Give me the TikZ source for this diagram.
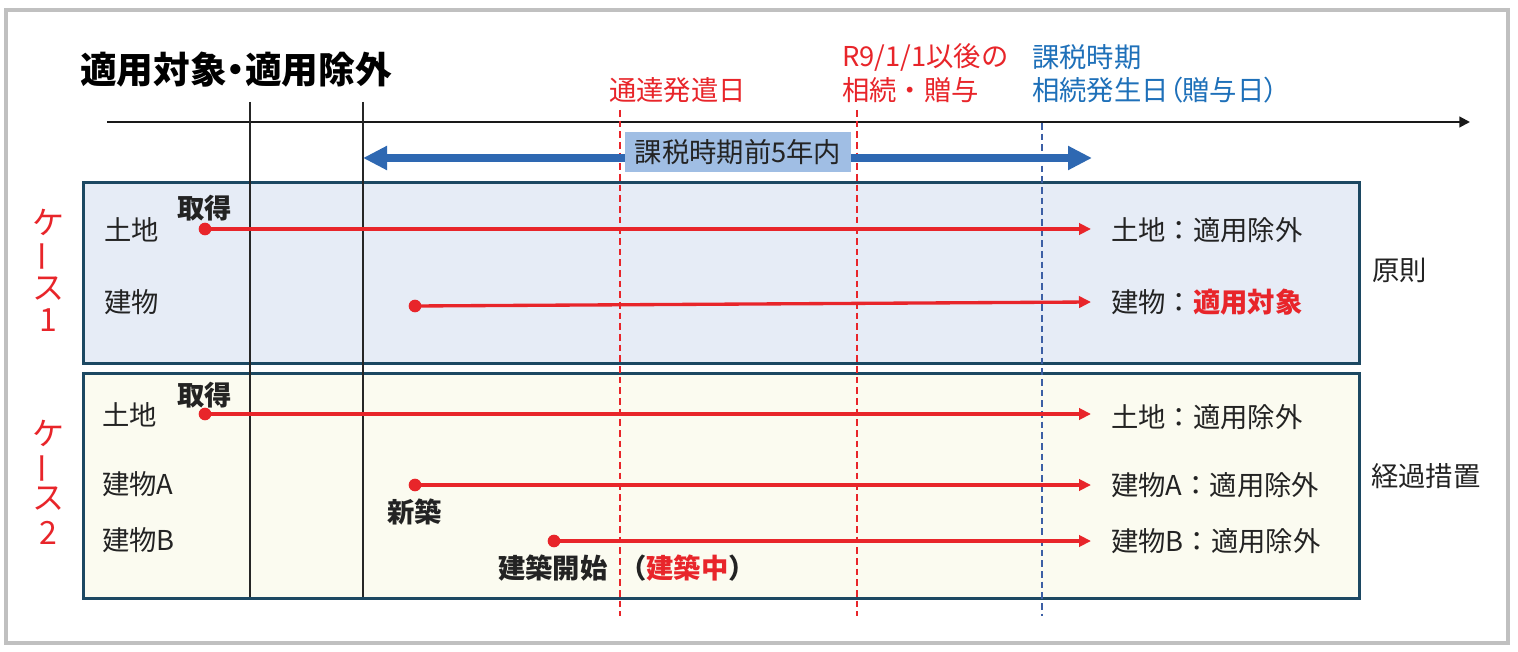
\documentclass[tikz,border=0pt]{standalone}
\usepackage{fontspec}
\setmainfont{Noto Sans CJK JP}
\usetikzlibrary{arrows.meta}
\definecolor{cred}{RGB}{232,37,42}
\definecolor{cblue}{RGB}{30,112,185}
\definecolor{abluee}{RGB}{46,104,178}
\definecolor{lblbox}{RGB}{160,190,228}
\definecolor{boxline}{RGB}{28,72,98}
\definecolor{fillone}{RGB}{230,236,246}
\definecolor{filltwo}{RGB}{251,251,240}
\definecolor{frame}{RGB}{192,192,192}
\definecolor{ink}{RGB}{35,35,35}
\definecolor{dashblue}{RGB}{60,95,165}
\newcommand\fsz[1]{\fontsize{#1}{#1}\selectfont}
\begin{document}
\begin{tikzpicture}[x=0.75pt,y=-0.75pt,
  txt/.style={anchor=west,inner sep=0pt,text=ink,font=\fsz{20.5pt}},
  bold/.style={txt,font=\fsz{20.5pt}\bfseries},
  toplbl/.style={anchor=west,inner sep=0pt,font=\fsz{20.5pt}},
  casechar/.style={inner sep=0pt,text=cred,font=\fsz{24pt}},
  casebox/.style={draw=boxline,line width=2.25pt,anchor=north west,inner sep=0pt,minimum width=957pt},
  vline/.style={draw=black!85,line width=0.9pt},
  rdash/.style={draw=cred,line width=0.9pt,dash pattern=on 5pt off 3pt},
  bdash/.style={draw=dashblue,line width=0.8pt,dash pattern=on 5pt off 3pt},
  redarrow/.style={draw=cred,line width=2.5pt,-{Triangle[length=9pt,width=8.5pt]}},
  dot/.style={fill=cred,circle,inner sep=0pt,minimum size=9.5pt}]
\useasboundingbox (0,0) rectangle (1518,652);
\fill[white] (0,0) rectangle (1518,652);
\draw[draw=frame,line width=3pt] (6,10) rectangle (1508,643);

% title
\node[anchor=west,inner sep=0pt,text=black,font=\fsz{27.5pt}\bfseries\addfontfeatures{RawFeature=+palt}] (title) at (80,70) {適用対象・適用除外};

% top labels
\node[toplbl,text=cred] (tsutatsu) at (609,90) {通達発遣日};
\node[toplbl,text=cred] (r9a) at (842,57) {R9/1/1以後の};
\node[toplbl,text=cred] (r9b) at (842,90) {相続・贈与};
\node[toplbl,text=cblue] (kzA) at (1032,57) {課税時期};
\node[toplbl,text=cblue,font=\fsz{20.5pt}\addfontfeatures{RawFeature=+palt}] (kzB) at (1032,90) {相続発生日（贈与日）};

% axis
\coordinate (axL) at (107,122);
\coordinate (axR) at (1470,122);
\draw[black!90,line width=1.6pt,-{Triangle[length=8pt,width=8pt]}] (axL) -- (axR);

% case boxes
\node[casebox,fill=fillone,minimum height=135.75pt] (case1) at (82,181) {};
\node[casebox,fill=filltwo,minimum height=168.75pt] (case2) at (82,372) {};

% vertical reference lines
\coordinate (v1t) at (250,102); \coordinate (v1b) at (250,597);
\coordinate (v2t) at (363,102); \coordinate (v2b) at (363,597);
\draw[vline] (v1t) -- (v1b);
\draw[vline] (v2t) -- (v2b);
\coordinate (d1t) at (620,110); \coordinate (d1b) at (620,616);
\coordinate (d2t) at (857,110); \coordinate (d2b) at (857,616);
\coordinate (d3t) at (1042,123); \coordinate (d3b) at (1042,616);
\draw[rdash] (d1t) -- (d1b);
\draw[rdash] (d2t) -- (d2b);
\draw[bdash] (d3t) -- (d3b);

% blue double arrow
\coordinate (baL) at (363,158);
\coordinate (baR) at (1092,158);
\draw[abluee,line width=5.3pt,{Triangle[length=18pt,width=17pt]}-{Triangle[length=18pt,width=17pt]}] (baL) -- (baR);
\node[fill=lblbox,inner sep=0pt,minimum width=169.5pt,minimum height=30pt,text=ink,font=\fsz{20.5pt}] (span) at (738,152) {課税時期前5年内};

% case labels (vertical)
\node[casechar] (k1a) at (48,222) {ケ};
\node[casechar,rotate=90] (k1b) at (48,257) {ー};
\node[casechar] (k1c) at (48,289) {ス};
\node[casechar] (k1d) at (48,320) {1};
\node[casechar] (k2a) at (48,433) {ケ};
\node[casechar,rotate=90] (k2b) at (48,468) {ー};
\node[casechar] (k2c) at (48,499) {ス};
\node[casechar] (k2d) at (48,533) {2};

% case 1 rows
\node[txt] (c1land) at (104,230) {土地};
\node[txt] (c1bld) at (104,302) {建物};
\node[bold] (c1acq) at (177,208) {取得};
\node[dot] (p1) at (205,229) {};
\node[dot] (p2) at (415,306) {};
\coordinate (e1) at (1091,229);
\coordinate (e2) at (1091,302);
\draw[redarrow] (p1.center) -- (e1);
\draw[redarrow] (p2.center) -- (e2);
\node[txt] (r1) at (1111,230) {土地：適用除外};
\node[txt] (r2) at (1111,302) {建物：\textcolor{cred}{\bfseries 適用対象}};
\node[txt] (gen) at (1372,270) {原則};

% case 2 rows
\node[txt] (c2land) at (102,415) {土地};
\node[txt] (c2bA) at (102,484) {建物A};
\node[txt] (c2bB) at (102,540) {建物B};
\node[bold] (c2acq) at (177,395) {取得};
\node[dot] (p3) at (205,414) {};
\node[dot] (p4) at (415,485) {};
\node[dot] (p5) at (554,541) {};
\coordinate (e3) at (1091,414);
\coordinate (e4) at (1091,485);
\coordinate (e5) at (1091,541);
\draw[redarrow] (p3.center) -- (e3);
\draw[redarrow] (p4.center) -- (e4);
\draw[redarrow] (p5.center) -- (e5);
\node[bold] (shin) at (387,512) {新築};
\node[bold] (kaishi) at (498,568) {建築開始};
\node[bold] (chu) at (619,568) {（\textcolor{cred}{建築中}）};
\node[txt] (r3) at (1111,417) {土地：適用除外};
\node[txt] (r4) at (1111,485) {建物A：適用除外};
\node[txt] (r5) at (1111,541) {建物B：適用除外};
\node[txt] (keika) at (1371,476) {経過措置};
\end{tikzpicture}
\end{document}
